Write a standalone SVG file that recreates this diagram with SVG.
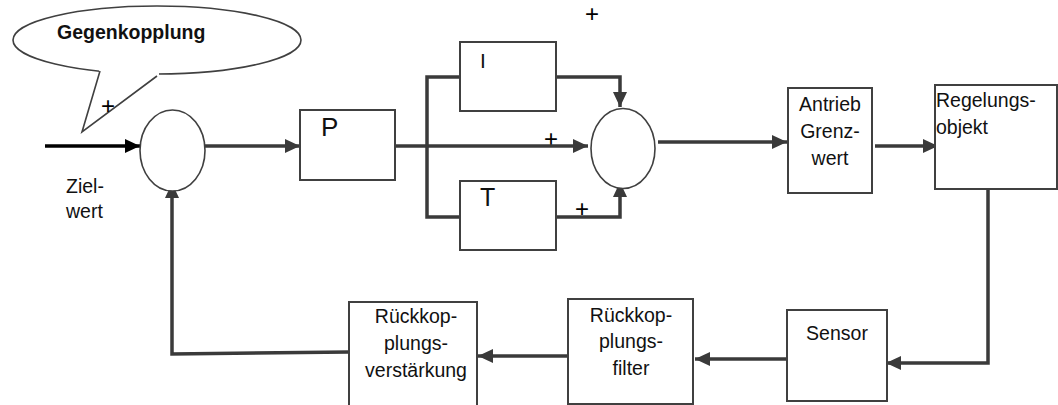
<svg xmlns="http://www.w3.org/2000/svg" width="1058" height="405" viewBox="0 0 1058 405">
<style>
.box{fill:#fff;stroke:#404040;stroke-width:2}
.sum{fill:#fff;stroke:#404040;stroke-width:1.6}
.con{fill:none;stroke:#3a3a3a;stroke-width:3.5}
.t{font-family:"Liberation Sans",Arial,sans-serif;font-size:19.5px;fill:#111}
.c{text-anchor:middle}
.pl{font-size:24px;fill:#000}
</style>
<defs>
<marker id="ah" markerUnits="userSpaceOnUse" markerWidth="16" markerHeight="14" refX="15" refY="7" orient="auto">
<path d="M0,0 L15,7 L0,14 z" fill="#3a3a3a"/>
</marker>
<marker id="ahb" markerUnits="userSpaceOnUse" markerWidth="16" markerHeight="14" refX="15" refY="7" orient="auto">
<path d="M0,0 L15,7 L0,14 z" fill="#000"/>
</marker>
</defs>
<rect width="1058" height="405" fill="#fff"/>

<g id="bubble">
<ellipse cx="157" cy="40" rx="144" ry="34" fill="#fff" stroke="#404040" stroke-width="1.6"/>
<path d="M100,71 L82,132 L157,76" fill="#fff" stroke="none"/>
<rect x="99" y="70" width="60" height="6" fill="#fff"/>
<path d="M100,71 L82,132 L157,76" fill="none" stroke="#404040" stroke-width="1.6"/>
<text class="t" x="57" y="39" style="font-weight:bold">Gegenkopplung</text>
<text class="t pl" x="101" y="114">+</text>
</g>

<g id="labels">
<text class="t" x="66" y="193">Ziel-</text>
<text class="t" x="66" y="218">wert</text>
<text class="t pl" x="585" y="22">+</text>
<text class="t pl" x="544" y="147">+</text>
<text class="t pl" x="575" y="217">+</text>
</g>

<g id="connectors">
<path d="M45,146 H140" fill="none" stroke="#000" stroke-width="3.5" marker-end="url(#ahb)"/>
<path class="con" d="M205,146 H300" marker-end="url(#ah)"/>
<path class="con" d="M396,146 H588" marker-end="url(#ah)"/>
<path class="con" d="M460,77 H427 V217 H460"/>
<path class="con" d="M556,77 H620 V107" marker-end="url(#ah)"/>
<path class="con" d="M556,217 H620 V182" marker-end="url(#ah)"/>
<path class="con" d="M658,142 H787" marker-end="url(#ah)"/>
<path class="con" d="M875,146 H938" marker-end="url(#ah)"/>
<path class="con" d="M988,189 V363 H886" marker-end="url(#ah)"/>
<path class="con" d="M787,359 H695" marker-end="url(#ah)"/>
<path class="con" d="M568,356 H478" marker-end="url(#ah)"/>
<path class="con" d="M349,352 L172,354 V183" marker-end="url(#ah)"/>
</g>

<g id="sum1"><ellipse class="sum" cx="172.5" cy="150.5" rx="32.5" ry="40.5"/></g>
<g id="sum2"><ellipse class="sum" cx="623" cy="148.5" rx="32" ry="40"/></g>

<g id="P"><rect class="box" x="300" y="110" width="95" height="70"/><text class="t" x="321" y="136" style="font-size:26px">P</text></g>
<g id="I"><rect class="box" x="460" y="42" width="96" height="69"/><text class="t" x="480" y="68" style="font-size:21px">I</text></g>
<g id="T"><rect class="box" x="460" y="181" width="96" height="69"/><text class="t" x="480" y="206" style="font-size:25px">T</text></g>
<g id="antrieb"><rect class="box" x="788" y="88" width="84" height="105"/>
<text class="t c" x="830" y="111">Antrieb</text><text class="t c" x="830" y="138">Grenz-</text><text class="t c" x="830" y="165">wert</text></g>
<g id="regelung"><rect class="box" x="935" y="85" width="122" height="104"/>
<text class="t" x="936" y="107">Regelungs-</text><text class="t" x="936" y="134">objekt</text></g>
<g id="sensor"><rect class="box" x="787" y="310" width="100" height="91"/><text class="t c" x="837" y="340">Sensor</text></g>
<g id="filter"><rect class="box" x="568" y="299" width="125" height="105"/>
<text class="t c" x="631" y="322">Rückkop-</text><text class="t c" x="631" y="348">plungs-</text><text class="t c" x="631" y="375">filter</text></g>
<g id="verst"><rect class="box" x="349" y="302" width="128" height="106"/>
<text class="t c" x="416" y="323">Rückkop-</text><text class="t c" x="416" y="350">plungs-</text><text class="t c" x="416" y="377">verstärkung</text></g>
</svg>
